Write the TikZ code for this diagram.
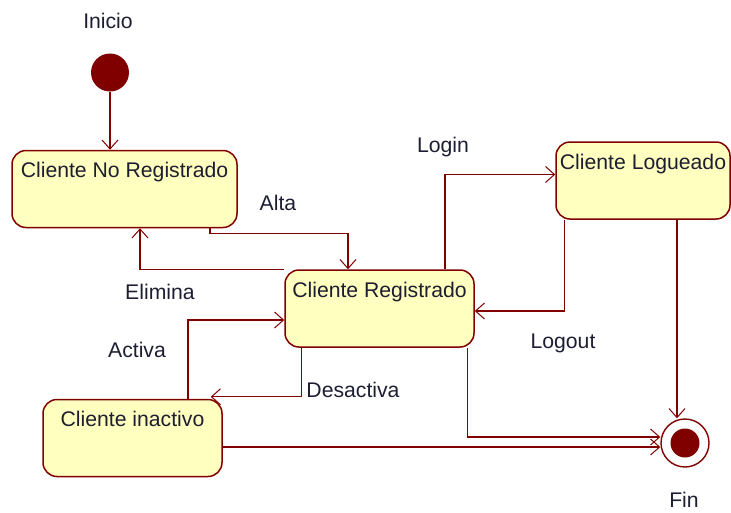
\documentclass[tikz,border=0pt]{standalone}
\usepackage{fontspec}
\setmainfont{Liberation Sans}
\usepackage{xcolor}
\usetikzlibrary{arrows.meta, calc}
\definecolor{umlred}{RGB}{128,0,0}
\definecolor{umlfill}{RGB}{255,255,192}
\definecolor{umltext}{RGB}{30,30,50}

\begin{document}
\begin{tikzpicture}[x=1pt, y=-1pt, >={Straight Barb[length=9pt, width=16pt, line width=1pt]},
  every node/.style={font=\fontsize{21.2}{23}\selectfont, text=umltext},
  statebox/.style={draw=umlred, line width=1.5pt, fill=umlfill, rounded corners=14pt, inner xsep=0pt, inner ysep=6pt, text height=21pt, text depth=44pt, anchor=center},
  trans/.style={draw=umlred, line width=1.4pt, ->}]
  \useasboundingbox (0,0) rectangle (731,512);
  \node[circle, fill=umlred, minimum size=38pt, inner sep=0pt] (start) at (110,72.5) {};
  \node[circle, draw=umlred, line width=1.4pt, minimum size=48pt, inner sep=0pt] (fin) at (685,443) {};
  \node[circle, fill=umlred, minimum size=29pt, inner sep=0pt] (finin) at (fin) {};
  \node[statebox, minimum width=225pt] (cnr) at (124.5,189) {Cliente No Registrado};
  \node[statebox, minimum width=189pt] (cr) at (379.5,308.5) {Cliente Registrado};
  \node[statebox, minimum width=174pt] (cl) at (643,180.5) {Cliente Logueado};
  \node[statebox, minimum width=179pt] (ci) at (132.5,438) {Cliente inactivo};
  \node (inicio) at (108,21) {Inicio};
  \node (fintxt) at (684,500) {Fin};
  \node (alta) at (278,203) {Alta};
  \node (elimina) at (160,292) {Elimina};
  \node (login) at (443,147) {Login};
  \node (logout) at (563,343) {Logout};
  \node (activa) at (137,350) {Activa};
  \node (desactiva) at (353,390) {Desactiva};
  \draw[trans] (start.south) -- (start.south |- cnr.north);
  \draw[trans] ($(cnr.south)+(85.5,0)$) -- ++(0,5) -| ($(cr.north)+(-31.5,0)$);
  \draw[trans] (cr.north west) -| ($(cnr.south)+(15.5,0)$);
  \draw[trans] ($(cr.north)+(65.5,0)$) |- ($(cl.west)+(0,-6)$);
  \draw[trans] ($(cl.south west)+(9,0)$) |- ($(cr.east)+(0,2.5)$);
  \coordinate (clout) at ($(cl.south)+(34,0)$);
  \draw[trans] (clout) -- (clout |- fin.north);
  \draw[trans] ($(cr.south east)+(-7,0)$) |- ($(fin.west)+(0,-6)$);
  \draw[trans] ($(ci.east)+(0,9)$) -- ($(fin.west)+(0,4)$);
  \draw[trans] ($(ci.north)+(55.5,0)$) |- ($(cr.west)+(0,11.5)$);
  \draw[trans] ($(cr.south west)+(17,0)$) |- ($(ci.north east)+(-12,-2)$);
\end{tikzpicture}
\end{document}
